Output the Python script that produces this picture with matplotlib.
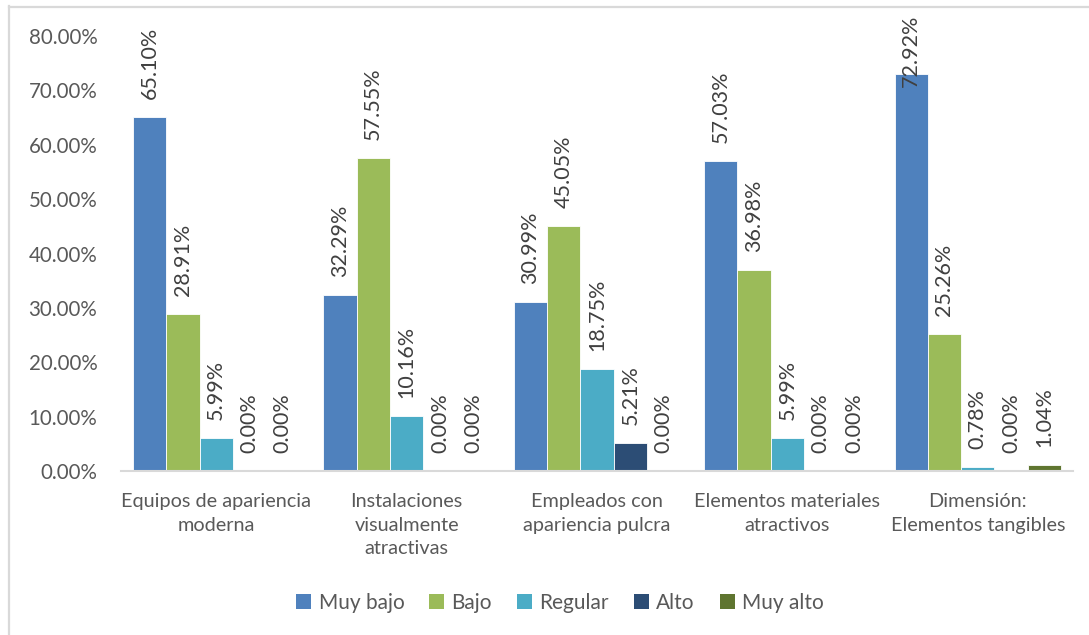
import matplotlib
matplotlib.use("Agg")
import matplotlib.pyplot as plt
import numpy as np
from matplotlib.patches import Patch
from matplotlib.lines import Line2D

categories = [
    "Equipos de apariencia\nmoderna",
    "Instalaciones\nvisualmente\natractivas",
    "Empleados con\napariencia pulcra",
    "Elementos materiales\natractivos",
    "Dimensión:\nElementos tangibles",
]
series_names = ["Muy bajo", "Bajo", "Regular", "Alto", "Muy alto"]
muy_bajo = [65.10, 32.29, 30.99, 57.03, 72.92]
bajo = [28.91, 57.55, 45.05, 36.98, 25.26]
regular = [5.99, 10.16, 18.75, 5.99, 0.78]
alto = [0.00, 0.00, 5.21, 0.00, 0.00]
muy_alto = [0.00, 0.00, 0.00, 0.00, 1.04]
yticks = [0, 10, 20, 30, 40, 50, 60, 70, 80]

series = [muy_bajo, bajo, regular, alto, muy_alto]
colors = ["#4F81BD", "#9BBB59", "#4BACC6", "#2C4D75", "#5F7530"]
text_color = "#595959"
font = "Lato"

W, H = 1089, 635
fig = plt.figure(figsize=(W / 100, H / 100), dpi=100)
fig.patch.set_facecolor("white")

# light frame along the top and left edges
fig.add_artist(Line2D([9 / W, 9 / W], [0, 1 - 6 / H], color="#D9D9D9", lw=1.6,
                      transform=fig.transFigure))
fig.add_artist(Line2D([9 / W, 1], [1 - 6.5 / H, 1 - 6.5 / H], color="#D9D9D9", lw=1.6,
                      transform=fig.transFigure))

ax = fig.add_axes([121 / W, 1 - 471 / H, (1073 - 121) / W, (471 - 36) / H])
ax.set_xlim(-0.5, len(categories) - 0.5)
ax.set_ylim(0, 80)

x = np.arange(len(categories))
bw = 0.175
offsets = (np.arange(5) - 2) * bw
label_texts = []
for i, (vals, col) in enumerate(zip(series, colors)):
    ax.bar(x + offsets[i], vals, width=bw, color=col, edgecolor="white", linewidth=0.6,
           zorder=2)
    for xi, v in zip(x, vals):
        t = ax.annotate(f"{v:.2f}%", (xi + offsets[i], v), xytext=(0, 13),
                        textcoords="offset points", rotation=90, ha="center",
                        va="bottom", fontsize=15.5, color="#404040", family=font,
                        annotation_clip=False)
        label_texts.append(t)

for s in ["top", "right", "left"]:
    ax.spines[s].set_visible(False)
ax.spines["bottom"].set_color("#D9D9D9")
ax.spines["bottom"].set_linewidth(1.5)

ax.set_yticks(yticks)
ax.set_yticklabels([f"{v:.2f}%" for v in yticks], fontsize=14.8, color=text_color,
                   family=font)
ax.tick_params(axis="y", length=0, pad=17)
ax.set_xticks(x)
ax.set_xticklabels(categories, fontsize=14.3, color=text_color, family=font,
                   linespacing=1.45)
ax.tick_params(axis="x", length=0, pad=16)

handles = [Patch(facecolor=c, edgecolor="none") for c in colors]
fig.legend(handles, series_names, loc="center", bbox_to_anchor=(560 / W, 1 - 603 / H),
           ncol=5, frameon=False, prop={"family": font, "size": 15},
           labelcolor=text_color, handlelength=0.72, handleheight=0.72,
           handletextpad=0.35, columnspacing=1.2)

# keep value labels inside the chart area
fig.canvas.draw()
renderer = fig.canvas.get_renderer()
top_limit = H - 15
for t in label_texts:
    bb = t.get_window_extent(renderer)
    if bb.y1 > top_limit:
        shift = bb.y1 - top_limit
        ox, oy = t.xyann
        t.xyann = (ox, oy - shift * 72 / fig.dpi)

fig.savefig("out.png", dpi=100, facecolor="white")
